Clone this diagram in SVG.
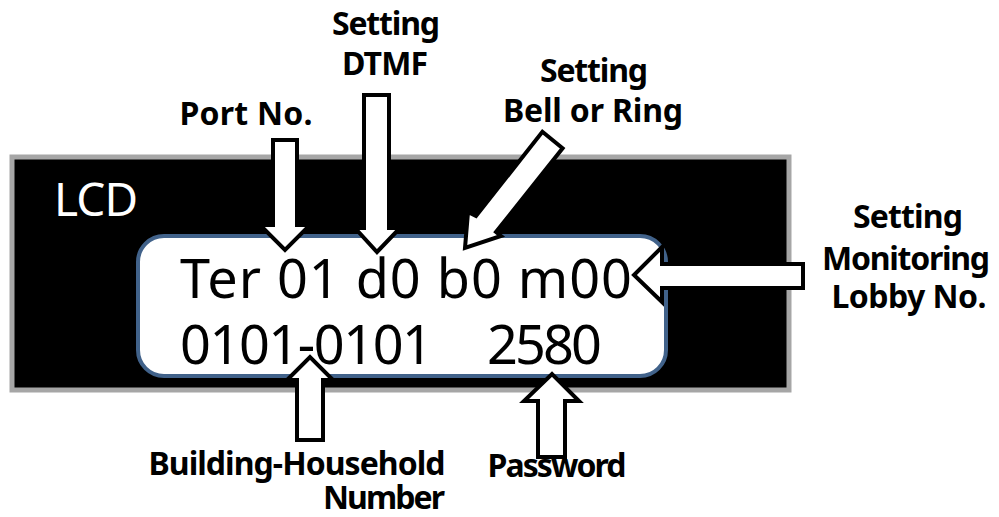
<svg xmlns="http://www.w3.org/2000/svg" width="999" height="517" viewBox="0 0 999 517">
<style>
.lbl{font-family:"Noto Sans","Liberation Sans",sans-serif;font-weight:bold;font-size:32px;fill:#000;text-anchor:middle}
.lcd{font-family:"Noto Sans","Liberation Sans",sans-serif;font-size:54px;fill:#000}
.arr{fill:#fff;stroke:#000;stroke-width:4;stroke-linejoin:miter}
</style>
<rect width="999" height="517" fill="#fff"/>
<g id="lcd-panel">
<rect x="12" y="157" width="777" height="233" fill="#000" stroke="#a6a6a6" stroke-width="5"/>
<text x="54" y="216" font-family="Noto Sans, Liberation Sans, sans-serif" font-size="46" fill="#fff" textLength="84">LCD</text>
</g>
<g id="lcd-screen">
<rect x="138" y="236" width="528" height="140" rx="26" fill="#fff" stroke="#41628a" stroke-width="4"/>
<text class="lcd" x="180" y="298" textLength="452">Ter 01 d0 b0 m00</text>
<text class="lcd" y="364"><tspan x="180" textLength="253">0101-0101</tspan><tspan x="487" textLength="115">2580</tspan></text>
</g>
<g id="connectors">
<polygon class="arr" points="273,140 297,140 297,225 310,225 285,250 260,225 273,225"/>
<polygon class="arr" points="364,95 389,95 389,228 400,228 377,252 355,228 364,228"/>
<polygon class="arr" points="542.4,131.8 562.6,148.2 496,232 501,236 465,248 468,212 476,216"/>
<polygon class="arr" points="803,264 803,288 662,288 662,302 634,275 662,247 662,264"/>
<polygon class="arr" points="297,440 323,440 323,380 333,380 310,357 287,380 297,380"/>
<polygon class="arr" points="538,457 565,457 565,401 579,401 552,374 524,401 538,401"/>
</g>
<g id="label-port"><text class="lbl" x="246" y="125" textLength="133">Port No.</text></g>
<g id="label-dtmf"><text class="lbl" x="386" y="35" textLength="108">Setting</text><text class="lbl" x="385" y="75" textLength="86">DTMF</text></g>
<g id="label-bell"><text class="lbl" x="594" y="82" textLength="108">Setting</text><text class="lbl" x="593" y="122" textLength="180">Bell or Ring</text></g>
<g id="label-monitor"><text class="lbl" x="908" y="228" textLength="110">Setting</text><text class="lbl" x="906" y="270" textLength="168">Monitoring</text><text class="lbl" x="909" y="308" textLength="155">Lobby No.</text></g>
<g id="label-building"><text class="lbl" x="297" y="475" textLength="297">Building-Household</text><text class="lbl" x="384" y="509" textLength="122">Number</text></g>
<g id="label-password"><text class="lbl" x="557" y="477" textLength="139">Password</text></g>
</svg>
